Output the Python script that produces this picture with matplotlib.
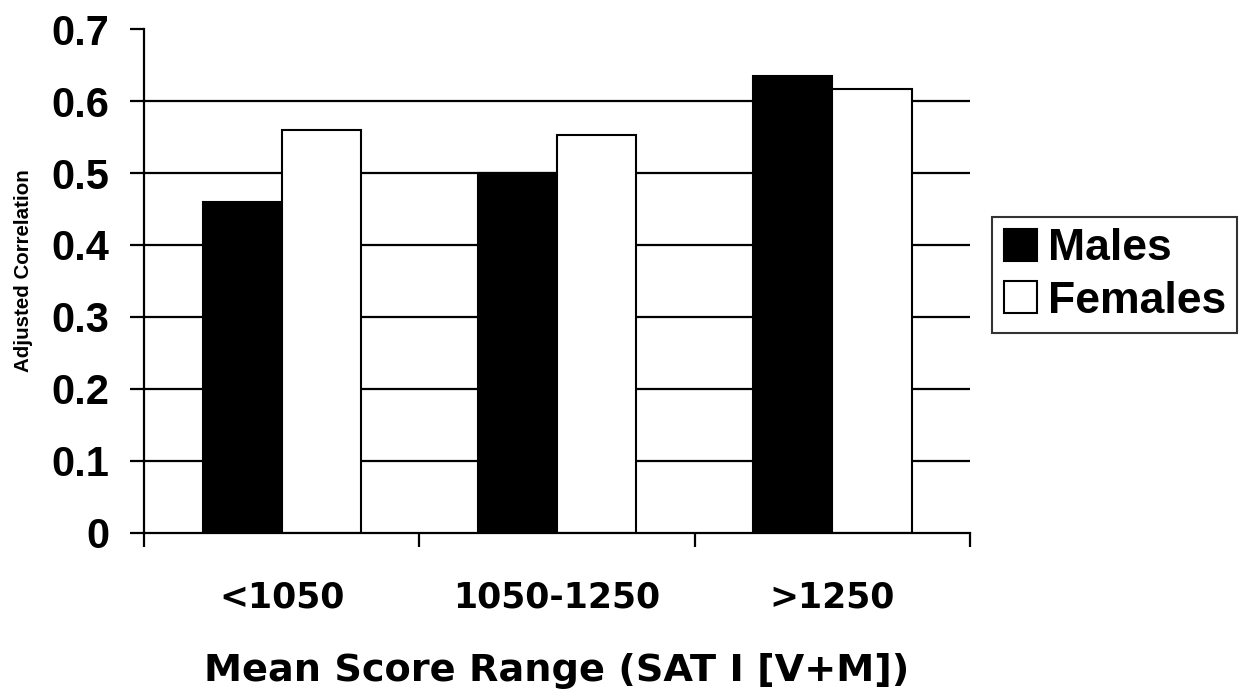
import numpy as np
import matplotlib
matplotlib.use('Agg')
import matplotlib.pyplot as plt

# Data
categories = ['<1050', '1050-1250', '>1250']
males = [0.46, 0.50, 0.635]
females = [0.56, 0.553, 0.617]
yticks = [0, 0.1, 0.2, 0.3, 0.4, 0.5, 0.6, 0.7]
ytick_labels = ['0', '0.1', '0.2', '0.3', '0.4', '0.5', '0.6', '0.7']

plt.rcParams['font.family'] = ['Liberation Sans', 'DejaVu Sans']
plt.rcParams['font.weight'] = 'bold'

fig = plt.figure(figsize=(12.47, 6.99), dpi=100)
ax = fig.add_axes([0.1155, 0.2375, 0.6625, 0.721])

x = np.arange(len(categories))
w = 0.287

# horizontal gridlines (none at the top value)
for yv in yticks[1:-1]:
    ax.axhline(yv, color='black', lw=1.6, zorder=1)

ax.bar(x - w / 2, males, w, color='black', edgecolor='black', lw=1.5, label='Males', zorder=2)
ax.bar(x + w / 2, females, w, color='white', edgecolor='black', lw=1.5, label='Females', zorder=2)

ax.set_xlim(-0.5, 2.5)
ax.set_ylim(0, 0.7)
ax.set_yticks(yticks)
ax.set_yticklabels(ytick_labels, fontsize=30, fontweight='bold')
ax.tick_params(axis='y', length=10, width=1.6, pad=15)

ax.set_xticks(x)
ax.set_xticklabels(categories, fontsize=25, fontweight='bold', family='DejaVu Sans')
ax.tick_params(axis='x', which='major', length=0, pad=34)
ax.set_xticks(np.arange(-0.5, len(categories), 1.0), minor=True)
ax.tick_params(axis='x', which='minor', length=10, width=1.6)

for s in ['top', 'right']:
    ax.spines[s].set_visible(False)
for s in ['left', 'bottom']:
    ax.spines[s].set_linewidth(1.6)

ax.set_xlabel('Mean Score Range (SAT I [V+M])', fontsize=27.5, fontweight='bold',
              family='DejaVu Sans', labelpad=28)
ax.set_ylabel('Adjusted Correlation', fontsize=14.8, fontweight='bold')
ax.yaxis.set_label_coords(-0.1345, 0.52)

leg = ax.legend(loc='center left', bbox_to_anchor=(1.027, 0.512), fontsize=32,
                frameon=True, fancybox=False, edgecolor='black', handlelength=0.75,
                handleheight=0.75, handletextpad=0.25, borderpad=0.25, labelspacing=0.25,
                borderaxespad=0)
leg.get_frame().set_linewidth(1.5)
for t in leg.get_texts():
    t.set_fontweight('bold')

fig.savefig('out.png', dpi=100)
